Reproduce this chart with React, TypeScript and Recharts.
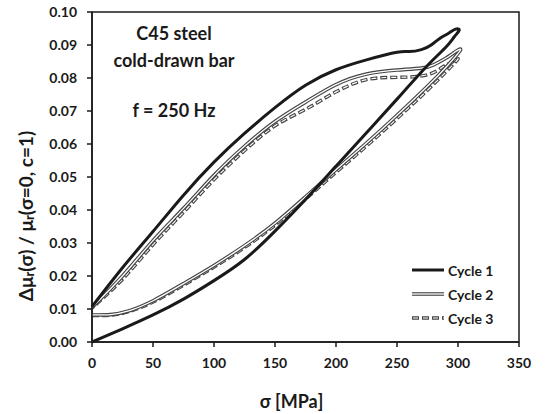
import React from 'react';
import {
  LineChart,
  Line,
  XAxis,
  YAxis,
  Legend,
  Label,
  ReferenceArea
} from 'recharts';

// stress values (MPa) along each loop: loading branch first, then unloading back to 0
const cycle1Sigma = [0, 25, 50, 75, 100, 125, 150, 175, 200, 225, 250, 275, 290, 297, 301, 298, 292, 285, 278, 270, 260, 250, 225, 200, 175, 150, 125, 100, 75, 50, 25, 0];
const cycle1Mu = [0.0, 0.004, 0.0082, 0.013, 0.0186, 0.025, 0.0336, 0.0432, 0.0533, 0.0634, 0.0736, 0.0838, 0.0893, 0.0925, 0.0945, 0.0948, 0.0935, 0.092, 0.09, 0.0886, 0.088, 0.0878, 0.0855, 0.0825, 0.0778, 0.071, 0.0632, 0.0545, 0.0445, 0.0335, 0.0225, 0.0107];

const cycle2Sigma = [0, 15, 30, 50, 75, 100, 125, 150, 175, 200, 225, 250, 275, 290, 302, 296, 290, 280, 270, 250, 225, 200, 175, 150, 125, 100, 75, 50, 25, 0];
const cycle2Mu = [0.0082, 0.0083, 0.0094, 0.0125, 0.0177, 0.0232, 0.0292, 0.036, 0.044, 0.0522, 0.0603, 0.0687, 0.0775, 0.0832, 0.0885, 0.0875, 0.086, 0.084, 0.083, 0.0824, 0.0812, 0.078, 0.0727, 0.0668, 0.0593, 0.0505, 0.0405, 0.0307, 0.02, 0.0105];

const cycle3Sigma = [0, 15, 30, 50, 75, 100, 125, 150, 175, 200, 225, 250, 275, 290, 300, 295, 288, 275, 250, 225, 200, 175, 150, 125, 100, 75, 50, 25, 0];
const cycle3Mu = [0.008, 0.0081, 0.0092, 0.0121, 0.0172, 0.0227, 0.0286, 0.0354, 0.0433, 0.0514, 0.0594, 0.0677, 0.0763, 0.0818, 0.0857, 0.0848, 0.0835, 0.081, 0.0802, 0.0795, 0.0758, 0.0705, 0.0655, 0.058, 0.0492, 0.0393, 0.0295, 0.019, 0.0103];

const xTicks = [0, 50, 100, 150, 200, 250, 300, 350];
const yTicks = [0, 0.01, 0.02, 0.03, 0.04, 0.05, 0.06, 0.07, 0.08, 0.09, 0.1];

const legendItems = ['Cycle 1', 'Cycle 2', 'Cycle 3'];

const zip = (s: number[], m: number[]) => s.map((x, i) => ({ s: x, v: m[i] }));
const cycle1 = zip(cycle1Sigma, cycle1Mu);
const cycle2 = zip(cycle2Sigma, cycle2Mu);
const cycle3 = zip(cycle3Sigma, cycle3Mu);

const FONT = 'Lato, "Open Sans", sans-serif';
const INK = '#1a1a1a';

const renderYLabel = (props: any) => {
  const vb = props.viewBox || {};
  const cx = vb.x + 25;
  const cy = vb.y + vb.height / 2 + 39;
  return (
    <text
      x={cx}
      y={cy}
      transform={`rotate(-90, ${cx}, ${cy})`}
      textAnchor="middle"
      dominantBaseline="central"
      fontFamily={FONT}
      fontWeight="bold"
      fontSize={19}
      fill={INK}
    >
      <tspan>Δμ</tspan>
      <tspan fontSize={13} dy={4}>r</tspan>
      <tspan dy={-4}>(σ) / μ</tspan>
      <tspan fontSize={13} dy={4}>r</tspan>
      <tspan dy={-4}>(σ=0, c=1)</tspan>
    </text>
  );
};

const Sample = ({ idx }: { idx: number }) => (
  <svg width={34} height={10} style={{ marginRight: 3 }}>
    {idx === 0 && <line x1={1} y1={5} x2={33} y2={5} stroke={INK} strokeWidth={3} />}
    {idx === 1 && (
      <>
        <line x1={1} y1={5} x2={33} y2={5} stroke="#444" strokeWidth={3.6} />
        <line x1={1} y1={5} x2={33} y2={5} stroke="#fff" strokeWidth={1.3} />
      </>
    )}
    {idx === 2 && (
      <>
        <line x1={1} y1={5} x2={33} y2={5} stroke="#444" strokeWidth={3.4} strokeDasharray="7 3" />
        <line x1={2} y1={5} x2={33} y2={5} stroke="#fff" strokeWidth={1.2} strokeDasharray="5 5" />
      </>
    )}
  </svg>
);

const renderLegend = () => (
  <div style={{ fontFamily: FONT, fontWeight: 'bold', fontSize: 14, color: INK }}>
    {legendItems.map((name, i) => (
      <div key={name} style={{ display: 'flex', alignItems: 'center', height: 24 }}>
        <Sample idx={i} />
        <span>{name}</span>
      </div>
    ))}
  </div>
);

const noteStyle: React.CSSProperties = {
  position: 'absolute',
  left: 94,
  width: 160,
  textAlign: 'center',
  fontFamily: FONT,
  fontWeight: 'bold',
  fontSize: 18,
  color: INK,
  lineHeight: '20px'
};

export default function App() {
  return (
    <div style={{ position: 'absolute', left: 0, top: 0, width: 548, height: 414, background: '#fff' }}>
      <LineChart width={548} height={414} margin={{ top: 12, right: 29, bottom: 0, left: 0 }}>
        <XAxis
          dataKey="s"
          type="number"
          domain={[0, 350]}
          ticks={xTicks}
          height={72}
          tickSize={5}
          tickMargin={11}
          stroke={INK}
          strokeWidth={1.5}
          tick={{ fill: INK, fontFamily: FONT, fontWeight: 'bold', fontSize: 14 }}
        >
          <Label
            value="σ [MPa]"
            position="insideBottom"
            offset={6}
            dx={-14}
            style={{ fill: INK, fontFamily: FONT, fontWeight: 'bold', fontSize: 18 }}
          />
        </XAxis>
        <YAxis
          dataKey="v"
          type="number"
          domain={[0, 0.1]}
          ticks={yTicks}
          width={92}
          tickSize={5}
          tickMargin={10}
          stroke={INK}
          strokeWidth={1.5}
          tickFormatter={(v: number) => v.toFixed(2)}
          tick={{ fill: INK, fontFamily: FONT, fontWeight: 'bold', fontSize: 14 }}
        >
          <Label content={renderYLabel} />
        </YAxis>
        <ReferenceArea x1={0} x2={350} y1={0} y2={0.1} fill="none" stroke={INK} strokeWidth={1.5} />
        <Legend
          layout="vertical"
          align="center"
          verticalAlign="middle"
          content={renderLegend}
          wrapperStyle={{ left: 411, top: 258, width: 110 }}
        />
        <Line data={cycle3} dataKey="v" type="natural" stroke="#444" strokeWidth={3.4} strokeDasharray="7 3" dot={false} isAnimationActive={false} legendType="none" />
        <Line data={cycle3} dataKey="v" type="natural" stroke="#fff" strokeWidth={1.2} strokeDasharray="5 5" strokeDashoffset={-1} dot={false} isAnimationActive={false} legendType="none" />
        <Line data={cycle2} dataKey="v" type="natural" stroke="#444" strokeWidth={3.6} dot={false} isAnimationActive={false} legendType="none" />
        <Line data={cycle2} dataKey="v" type="natural" stroke="#fff" strokeWidth={1.3} dot={false} isAnimationActive={false} legendType="none" />
        <Line data={cycle1} dataKey="v" type="natural" stroke={INK} strokeWidth={3} dot={false} isAnimationActive={false} legendType="none" />
      </LineChart>
      <div style={{ ...noteStyle, top: 23 }}>C45 steel</div>
      <div style={{ ...noteStyle, top: 50 }}>cold-drawn bar</div>
      <div style={{ ...noteStyle, top: 100 }}>f = 250 Hz</div>
    </div>
  );
}
